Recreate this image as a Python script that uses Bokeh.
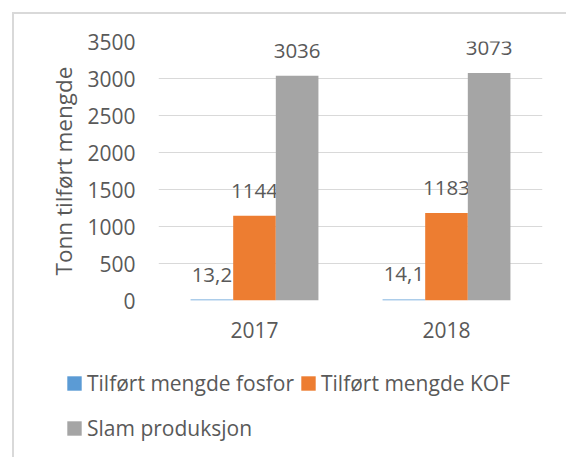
from bokeh.plotting import figure
from bokeh.layouts import column
from bokeh.models import (ColumnDataSource, FactorRange, Range1d, Legend, LegendItem,
                          FixedTicker)
from bokeh.transform import dodge
from bokeh.core.properties import value
from bokeh.embed import file_html
from bokeh.resources import INLINE

# ---- data ----
years = ["2017", "2018"]
fosfor = [13.2, 14.1]
kof = [1144, 1183]
slam = [3036, 3073]
series_names = ["Tilført mengde fosfor", "Tilført mengde KOF", "Slam produksjon"]
colors = ["#5B9BD5", "#ED7D31", "#A5A5A5"]
y_ticks = [0, 500, 1000, 1500, 2000, 2500, 3000, 3500]
y_title = "Tonn tilført mengde"


def fmt(v):
    return f"{v:g}".replace(".", ",")


src = ColumnDataSource(dict(
    year=years, fosfor=fosfor, kof=kof, slam=slam,
    fosfor_lbl=[fmt(v) for v in fosfor],
    kof_lbl=[fmt(v) for v in kof],
    slam_lbl=[fmt(v) for v in slam],
))

FONT = "Open Sans"
TXT = "#595959"
W = 552
H1, H2 = 332, 111
BW = 0.222

p = figure(x_range=FactorRange(*years, range_padding=0), y_range=Range1d(0, 3500),
           width=W, height=H1, output_backend="svg", toolbar_location=None,
           min_border_left=144, min_border_right=24, min_border_top=27, min_border_bottom=46)
p.frame_align = False
p.outline_line_color = None
p.background_fill_color = "white"
p.border_fill_color = "white"

keys = ["fosfor", "kof", "slam"]
offsets = [-BW, 0, BW]
for k, off, c in zip(keys, offsets, colors):
    p.vbar(x=dodge("year", off, range=p.x_range), top=k, width=BW, source=src,
           fill_color=c, line_color=None)
    p.text(x=dodge("year", off, range=p.x_range), y=k, text=k + "_lbl", source=src,
           text_align="center", text_baseline="alphabetic", y_offset=-25,
           text_font=value(FONT), text_font_size="20.5px", text_color=TXT)

p.xgrid.grid_line_color = None
p.ygrid.grid_line_color = "#d9d9d9"
p.ygrid.grid_line_width = 1
p.yaxis.ticker = FixedTicker(ticks=y_ticks)

for ax in (p.xaxis[0], p.yaxis[0]):
    ax.axis_line_color = None
    ax.major_tick_line_color = None
    ax.minor_tick_line_color = None
    ax.major_tick_out = 0
    ax.major_tick_in = 0
    ax.major_label_text_font = FONT
    ax.major_label_text_font_size = "21px"
    ax.major_label_text_color = TXT

p.yaxis.major_label_standoff = 23
p.xaxis.major_label_standoff = 21
p.yaxis.axis_label = y_title
p.yaxis.axis_label_text_font = FONT
p.yaxis.axis_label_text_font_size = "22.5px"
p.yaxis.axis_label_text_font_style = "normal"
p.yaxis.axis_label_text_color = TXT
p.yaxis.axis_label_standoff = 5

# ---- legend panel (separate figure below the plot) ----
# hidden proxy bars: only their legend swatches are shown
lf = figure(width=W, height=H2, output_backend="svg", toolbar_location=None,
            x_axis_type=None, y_axis_type=None,
            x_range=FactorRange(*years), y_range=Range1d(-2, -1),
            min_border=0, min_border_left=0, min_border_right=0, min_border_top=0, min_border_bottom=0)
lf.frame_align = False
lf.outline_line_color = None
lf.xgrid.grid_line_color = None
lf.ygrid.grid_line_color = None
lf.background_fill_color = "white"
lf.border_fill_color = "white"
leg_r = [lf.vbar(x="year", top=k, width=0.1, source=src, fill_color=c, line_color=None,
                 visible=False)
         for k, c in zip(keys, colors)]

common = dict(padding=0, margin=0, spacing=5, label_standoff=4,
              glyph_width=18, glyph_height=18, label_height=18,
              label_text_font=FONT, label_text_font_size="21px", label_text_color=TXT,
              border_line_color=None, background_fill_alpha=0,
              inactive_fill_alpha=0)
leg1 = Legend(items=[LegendItem(label=series_names[0], renderers=[leg_r[0]]),
                     LegendItem(label=series_names[1], renderers=[leg_r[1]])],
              orientation="horizontal", location=(51, 60), **common)
leg2 = Legend(items=[LegendItem(label=series_names[2], renderers=[leg_r[2]])],
              orientation="horizontal", location=(51, 15), **common)
lf.add_layout(leg1, "center")
lf.add_layout(leg2, "center")

layout = column(p, lf, spacing=0)
layout.styles = {"margin-left": "12px", "margin-top": "12px",
                 "border-left": "2px solid #d9d9d9", "border-top": "2px solid #d9d9d9"}

open("out.html", "w").write(file_html(layout, INLINE))
